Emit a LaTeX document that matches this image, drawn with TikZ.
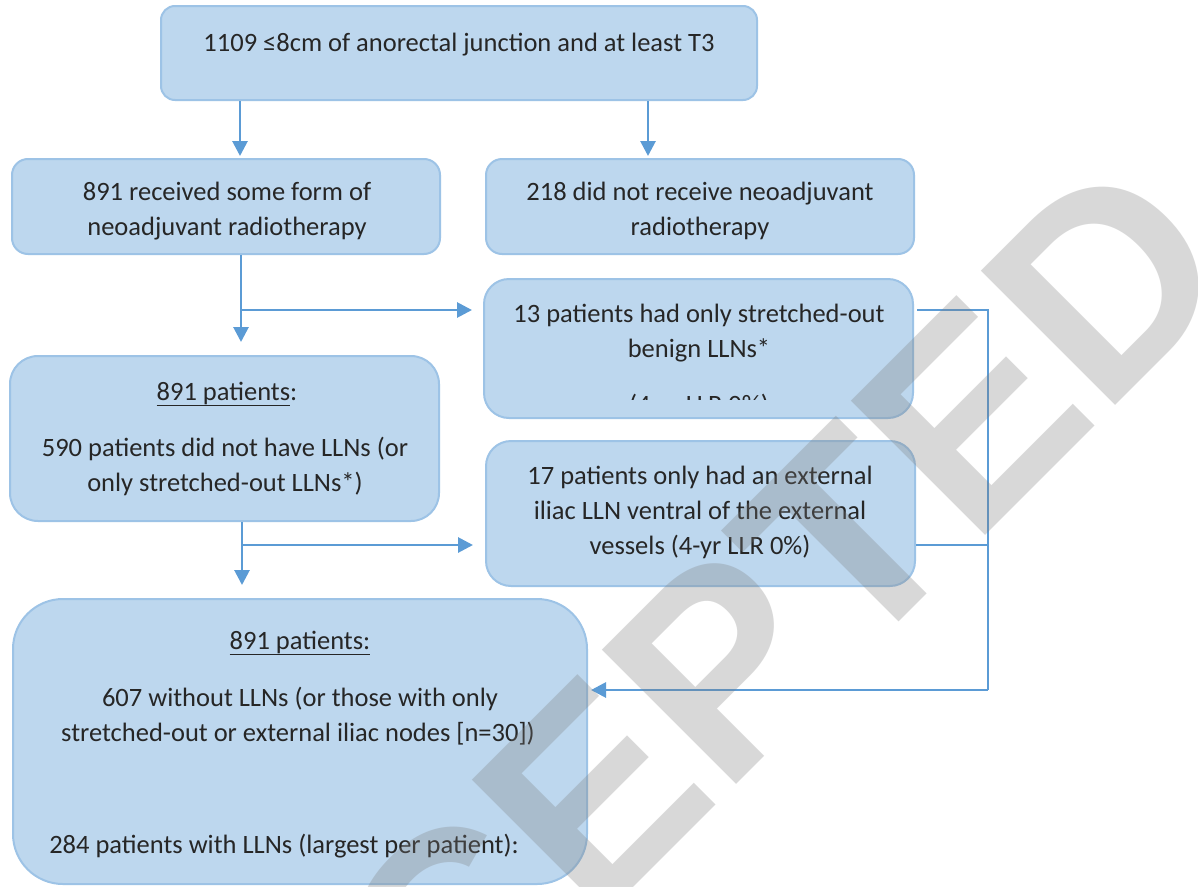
\documentclass[tikz,border=0pt]{standalone}
\usepackage{fontspec}
\setmainfont{Carlito}
\newfontfamily\wmfont{Liberation Sans}
\usetikzlibrary{arrows.meta}
\definecolor{boxfill}{HTML}{BDD7EE}
\definecolor{boxline}{HTML}{9DC3E6}
\definecolor{conn}{HTML}{5B9BD5}
\definecolor{txt}{HTML}{262626}
\definecolor{wm}{HTML}{7B7B7B}
\begin{document}
\begin{tikzpicture}[x=1pt,y=-1pt,
  box/.style={draw=boxline, line width=2pt, fill=boxfill, inner sep=0pt},
  lbl/.style={text=txt, font=\fontsize{26.5}{35}\selectfont, inner sep=0pt, anchor=base},
  arr/.style={draw=conn, line width=2.8pt, -{Triangle[length=15pt,width=15pt]}},
  ln/.style={draw=conn, line width=2.8pt},
  thinln/.style={draw=conn, line width=1.2pt},
]
\useasboundingbox (0,0) rectangle (1198,886);
\fill[white] (0,0) rectangle (1198,886);

% boxes
\node[box, rounded corners=14pt, minimum width=596pt, minimum height=94pt] (A) at (459,53) {};
\node[box, rounded corners=16pt, minimum width=428pt, minimum height=95pt] (B) at (226,206.5) {};
\node[box, rounded corners=16pt, minimum width=428pt, minimum height=95pt] (C) at (700,206.5) {};
\node[box, rounded corners=25pt, minimum width=429pt, minimum height=139pt] (D) at (698.5,348.5) {};
\node[box, rounded corners=28pt, minimum width=429pt, minimum height=165pt] (E) at (224.5,438.5) {};
\node[box, rounded corners=25pt, minimum width=429pt, minimum height=145pt] (F) at (700.5,513.5) {};
\node[box, rounded corners=50pt, minimum width=574pt, minimum height=285pt] (G) at (300,741.5) {};

% texts
\node[lbl] (tA) at (459,51) {1109 ≤8cm of anorectal junction and at least T3};
\node[lbl] (tB1) at (227,200) {891 received some form of};
\node[lbl] (tB2) at (227,235) {neoadjuvant radiotherapy};
\node[lbl] (tC1) at (700,200) {218 did not receive neoadjuvant};
\node[lbl] (tC2) at (700,235) {radiotherapy};
\node[lbl] (tD1) at (699,322) {13 patients had only stretched-out};
\node[lbl] (tD2) at (699,357) {benign LLNs*};
\begin{scope}
  \clip (484,279) rectangle (913,399);
  \node[lbl] (tD3) at (699,413) {(4-yr LLR 0\%)};
\end{scope}
\node[lbl] (tE1) at (227,400) {\underline{891 patients}:};
\node[lbl] (tE2) at (225,456) {590 patients did not have LLNs (or};
\node[lbl] (tE3) at (225,491) {only stretched-out LLNs*)};
\node[lbl] (tF1) at (700,484) {17 patients only had an external};
\node[lbl] (tF2) at (700,519) {iliac LLN ventral of the external};
\node[lbl] (tF3) at (700,554) {vessels (4-yr LLR 0\%)};
\node[lbl] (tG1) at (300,649) {\underline{891 patients:}};
\node[lbl] (tG2) at (300,706) {607 without LLNs (or those with only};
\node[lbl] (tG3) at (298,741) {stretched-out or external iliac nodes [n=30])};
\node[lbl] (tG4) at (284,853) {284 patients with LLNs (largest per patient):};

% connector coordinates
\coordinate (x1) at (240,0);
\coordinate (x2) at (648,0);
\coordinate (x3) at (241,0);
\coordinate (x4) at (242,0);
\coordinate (j1) at (241,310);
\coordinate (j2) at (242,545);
\coordinate (r1) at (988,310);
\coordinate (r2) at (988,690);
\coordinate (r3) at (988,545);

\draw[arr, shorten >=2pt] (A.south -| x1) -- (B.north -| x1);
\draw[arr, shorten >=2pt] (A.south -| x2) -- (C.north -| x2);
\draw[arr, shorten >=13pt] (B.south -| x3) -- (E.north -| x3);
\draw[arr, shorten >=11pt] (j1) -- (D.west |- j1);
\draw[arr, shorten >=13pt] (E.south -| x4) -- (G.north -| x4);
\draw[arr, shorten >=12pt] (j2) -- (F.west |- j2);
\draw[ln] ([xshift=3pt]D.east |- r1) -- (r1) -- (r2);
\draw[arr, shorten >=3pt] (r2) -- (G.east |- r2);
\draw[thinln] (F.east |- r3) -- (r3);

% watermark
\node[rotate=45, anchor=base east, text=wm, text opacity=0.29, inner sep=0pt,
      font=\wmfont\bfseries\fontsize{276}{276}\selectfont] (wmk) at (1244,277) {ACCEPTED};
\end{tikzpicture}
\end{document}
